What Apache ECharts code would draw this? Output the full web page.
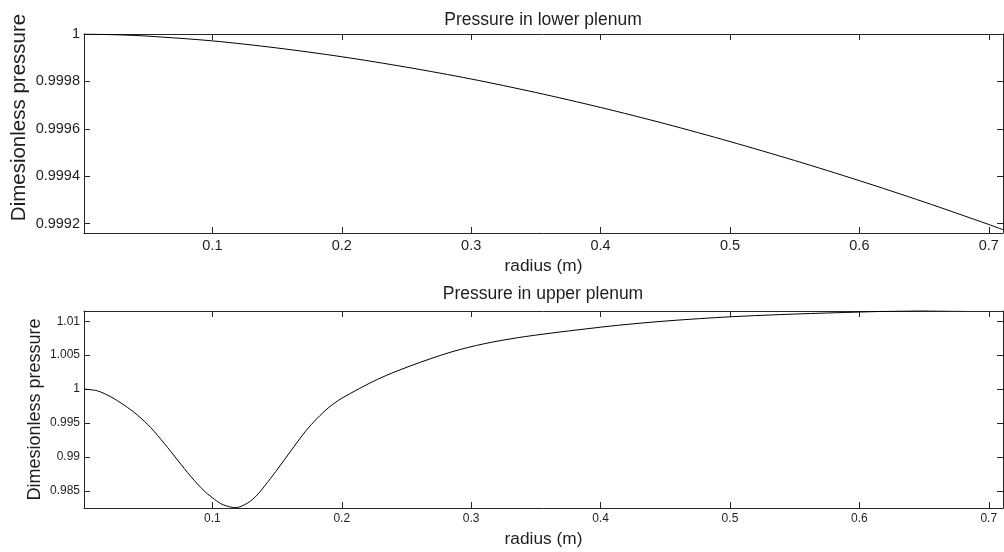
<!DOCTYPE html>
<html>
<head>
<meta charset="utf-8">
<script src="https://cdn.jsdelivr.net/npm/echarts@6/dist/echarts.min.js"></script>
<style>
html,body{margin:0;padding:0;background:#fff;}
#main{width:1004px;height:552px;}
</style>
</head>
<body>
<div id="main"></div>
<script>
// ---- Data ----
var lowerRadius = [0.0008, 0.03, 0.05, 0.1, 0.15, 0.2, 0.25, 0.3, 0.35, 0.4, 0.45, 0.5, 0.55, 0.6, 0.65, 0.7, 0.711];
var lowerPressure = [1.0, 0.999996, 0.999991, 0.999971, 0.999941, 0.999904, 0.99986, 0.99981, 0.999753, 0.99969, 0.999621, 0.999546, 0.999466, 0.999381, 0.999291, 0.999196, 0.999174];

var upperRadius = [0.0008, 0.0111, 0.0215, 0.0318, 0.0421, 0.0525, 0.0628, 0.0731, 0.0835, 0.0938, 0.1041, 0.1088, 0.1179, 0.1269, 0.1346, 0.145, 0.1527, 0.163, 0.172, 0.181, 0.19, 0.2, 0.2277, 0.2535, 0.2845, 0.3103, 0.336, 0.362, 0.388, 0.4137, 0.452, 0.5008, 0.55, 0.6008, 0.631, 0.68, 0.711];
var upperPressure = [1.0, 0.99975, 0.99887, 0.99765, 0.99618, 0.99431, 0.99202, 0.98956, 0.98711, 0.985, 0.98343, 0.98294, 0.98255, 0.98319, 0.98441, 0.98687, 0.98882, 0.99151, 0.9938, 0.9957, 0.9973, 0.99865, 1.00145, 1.00345, 1.00546, 1.00669, 1.00757, 1.00825, 1.00885, 1.0094, 1.01005, 1.01065, 1.01105, 1.01135, 1.0115, 1.0117, 1.0118];

var xTicks = [0.1, 0.2, 0.3, 0.4, 0.5, 0.6, 0.7];
var lowerYTicks = [0.9992, 0.9994, 0.9996, 0.9998, 1.0];
var upperYTicks = [0.985, 0.99, 0.995, 1.0, 1.005, 1.01];

var titles = ['Pressure in lower plenum', 'Pressure in upper plenum'];
var xName = 'radius (m)';
var yName = 'Dimesionless pressure';

// ---- Chart ----
var FONT = 'Liberation Sans, Arial, sans-serif';
var AX = '#262626';
var TXT = '#1e1e1e';

function zip(a, b) { return a.map(function (v, i) { return [v, b[i]]; }); }

function xAxisPair(grid, labelSize, nameGap, min, max) {
  return [
    {
      type: 'value', gridIndex: grid, position: 'bottom', min: min, max: max,
      axisLine: { show: true, onZero: false, lineStyle: { color: AX, width: 1 } },
      axisTick: { show: true, inside: true, length: 6, customValues: xTicks, lineStyle: { color: AX } },
      axisLabel: { show: true, customValues: xTicks, margin: 5, color: TXT, fontFamily: FONT, fontSize: labelSize,
        formatter: function (v) { return String(parseFloat(v.toFixed(1))); } },
      splitLine: { show: false },
      name: xName, nameLocation: 'middle', nameGap: nameGap, nameMoveOverlap: false,
      nameTextStyle: { color: TXT, fontFamily: FONT, fontSize: 17.3 }
    },
    {
      type: 'value', gridIndex: grid, position: 'top', min: min, max: max,
      axisLine: { show: true, onZero: false, lineStyle: { color: AX, width: 1 } },
      axisTick: { show: true, inside: true, length: 6, customValues: xTicks, lineStyle: { color: AX } },
      axisLabel: { show: false },
      splitLine: { show: false }
    }
  ];
}

function yAxisPair(grid, ticks, min, max, digits, labelSize, nameSize, nameGap, namePad) {
  return [
    {
      type: 'value', gridIndex: grid, position: 'left', min: min, max: max,
      axisLine: { show: true, onZero: false, lineStyle: { color: AX, width: 1 } },
      axisTick: { show: true, inside: true, length: 6, customValues: ticks, lineStyle: { color: AX } },
      axisLabel: { show: true, customValues: ticks, margin: 4, color: TXT, fontFamily: FONT, fontSize: labelSize,
        formatter: function (v) { return String(parseFloat(v.toFixed(digits))); } },
      splitLine: { show: false },
      name: yName, nameLocation: 'middle', nameGap: nameGap, nameRotate: 90, nameMoveOverlap: false,
      nameTextStyle: { color: TXT, fontFamily: FONT, fontSize: nameSize, padding: namePad }
    },
    {
      type: 'value', gridIndex: grid, position: 'right', min: min, max: max,
      axisLine: { show: true, onZero: false, lineStyle: { color: AX, width: 1 } },
      axisTick: { show: true, inside: true, length: 6, customValues: ticks, lineStyle: { color: AX } },
      axisLabel: { show: false },
      splitLine: { show: false }
    }
  ];
}

var chart = echarts.init(document.getElementById('main'), null, { renderer: 'canvas' });

var option = {
  backgroundColor: '#ffffff',
  animation: false,
  title: [
    { text: titles[0], left: 543, top: 11, textAlign: 'center', padding: 0,
      textStyle: { color: TXT, fontFamily: FONT, fontSize: 17.5, fontWeight: 'normal' } },
    { text: titles[1], left: 543, top: 285, textAlign: 'center', padding: 0,
      textStyle: { color: TXT, fontFamily: FONT, fontSize: 17.5, fontWeight: 'normal' } }
  ],
  grid: [
    { left: 84, top: 34, width: 919, height: 199, containLabel: false, outerBoundsMode: 'none' },
    { left: 84, top: 311, width: 919, height: 197, containLabel: false, outerBoundsMode: 'none' }
  ],
  xAxis: [].concat(
    xAxisPair(0, 14.5, 25, 0.0008, 0.711),
    xAxisPair(1, 12, 23, 0.0008, 0.711)
  ),
  yAxis: [].concat(
    yAxisPair(0, lowerYTicks, 0.99916, 1.0, 4, 14.5, 20.5, 54, [0, 0, 0, 32]),
    yAxisPair(1, upperYTicks, 0.9825, 1.0115, 3, 12, 18, 40, 0)
  ),
  series: [
    {
      type: 'line', xAxisIndex: 0, yAxisIndex: 0, data: zip(lowerRadius, lowerPressure),
      showSymbol: false, symbol: 'none', smooth: 0.3, clip: true,
      lineStyle: { color: '#000', width: 1 }
    },
    {
      type: 'line', xAxisIndex: 2, yAxisIndex: 2, data: zip(upperRadius, upperPressure),
      showSymbol: false, symbol: 'none', smooth: 0.3, clip: true,
      lineStyle: { color: '#000', width: 1 }
    }
  ]
};
chart.setOption(option);
</script>
</body>
</html>
